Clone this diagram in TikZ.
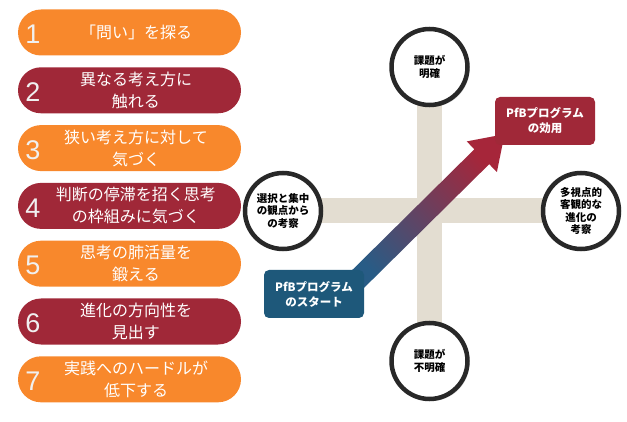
\documentclass[tikz,border=0pt]{standalone}
\usepackage{fontspec}
\setmainfont{Noto Sans CJK JP}
\newfontfamily\numfont{Liberation Sans}
\usetikzlibrary{calc,shadows}
\definecolor{pforange}{RGB}{248,136,44}
\definecolor{pfred}{RGB}{160,40,56}
\definecolor{pfblue}{RGB}{30,88,122}
\definecolor{arrowblue}{RGB}{40,92,134}
\definecolor{arrowred}{RGB}{166,38,58}
\definecolor{barbeige}{RGB}{227,221,209}
\definecolor{ringgray}{RGB}{40,40,40}
\pgfdeclarelayer{bars}
\pgfdeclarelayer{arrow}
\pgfsetlayers{bars,arrow,main}
\tikzset{
	pill/.style={rounded corners=23pt, minimum width=223pt, minimum height=46pt, inner sep=0pt, fill=#1},
	pilltext/.style={text=white, align=center, inner sep=0pt, font=\fontsize{16}{22}\selectfont},
	pillnum/.style={text=white!94!black, inner sep=0pt, font=\numfont\fontsize{27}{27}\selectfont},
	view/.style={circle, draw=ringgray, line width=4.5pt, fill=white, minimum size=76pt, inner sep=0pt, align=center,
		font=\bfseries\fontsize{10.5}{12.5}\selectfont, drop shadow={opacity=0.3, shadow xshift=2pt, shadow yshift=-2pt}},
	pfbbox/.style={rounded corners=5pt, fill=#1, minimum width=100pt, minimum height=48pt, inner sep=0pt, text=white,
		align=center, font=\bfseries\fontsize{11.5}{15}\selectfont},
	bar/.style={line width=25pt, barbeige},
}

\begin{document}
\begin{tikzpicture}[x=1pt, y=-1pt]
			%%%%% START %%%%%
			\def\pillx{129.5}
			\def\pilly{32.5}
			\def\pillgap{57.8}
			\def\shaft{10.5}
			\def\head{21.5}
			\useasboundingbox (0,0) rectangle (627,422);

			% seven steps on the left
			\foreach \n/\c/\txt [count=\i from 0] in {1/pforange/{「問い」を探る}, 2/pfred/{異なる考え方に\\触れる},
				3/pforange/{狭い考え方に対して\\気づく}, 4/pfred/{判断の停滞を招く思考\\の枠組みに気づく},
				5/pforange/{思考の肺活量を\\鍛える}, 6/pfred/{進化の方向性を\\見出す},
				7/pforange/{実践へのハードルが\\低下する}}
			{
				\node[pill=\c] (pill\n) at (\pillx, \pilly+\pillgap*\i) {};
				\node[pillnum] (num\n) at ($(pill\n.west)+(15,2)$) {\n};
				\node[pilltext] (txt\n) at ($(pill\n.center)+(6.5,0)$) {\txt};
			}

			% four views round the cross
			\node[view] (clear) at (429.5,67) {課題が\\明確};
			\node[view] (unclear) at (429.5,361) {課題が\\不明確};
			\node[view] (focus) at (283,211) {選択と集中\\の観点から\\の考察};
			\node[view] (multi) at (581,211) {多視点的\\客観的な\\進化の\\考察};

			\begin{pgfonlayer}{bars}
				\draw[bar] (clear.center) -- (unclear.center);
				\draw[bar] (focus.center) -- (multi.center);
			\end{pgfonlayer}

			% start and goal of the programme
			\node[pfbbox=pfred] (effect) at (545,121) {PfBプログラム\\の効用};
			\node[pfbbox=pfblue] (start) at (314,294) {PfBプログラム\\のスタート};

			\coordinate (tail) at ($(start.north east)+(-12,15)$);
			\coordinate (neck) at ($(effect.south west)+(-13,11.5)$);
			\coordinate (tip) at ($(neck)!-32pt!(tail)$);
			\begin{pgfonlayer}{arrow}
				\shade[bottom color=arrowblue, top color=arrowred, shading angle=-47]
					($(tail)!\shaft pt!90:(neck)$) -- ($(neck)!\shaft pt!-90:(tail)$) -- ($(neck)!\head pt!-90:(tail)$)
					-- (tip) -- ($(neck)!\head pt!90:(tail)$) -- ($(neck)!\shaft pt!90:(tail)$)
					-- ($(tail)!\shaft pt!-90:(neck)$) -- cycle;
			\end{pgfonlayer}
			%%%%% END %%%%%
\end{tikzpicture}
\end{document}
